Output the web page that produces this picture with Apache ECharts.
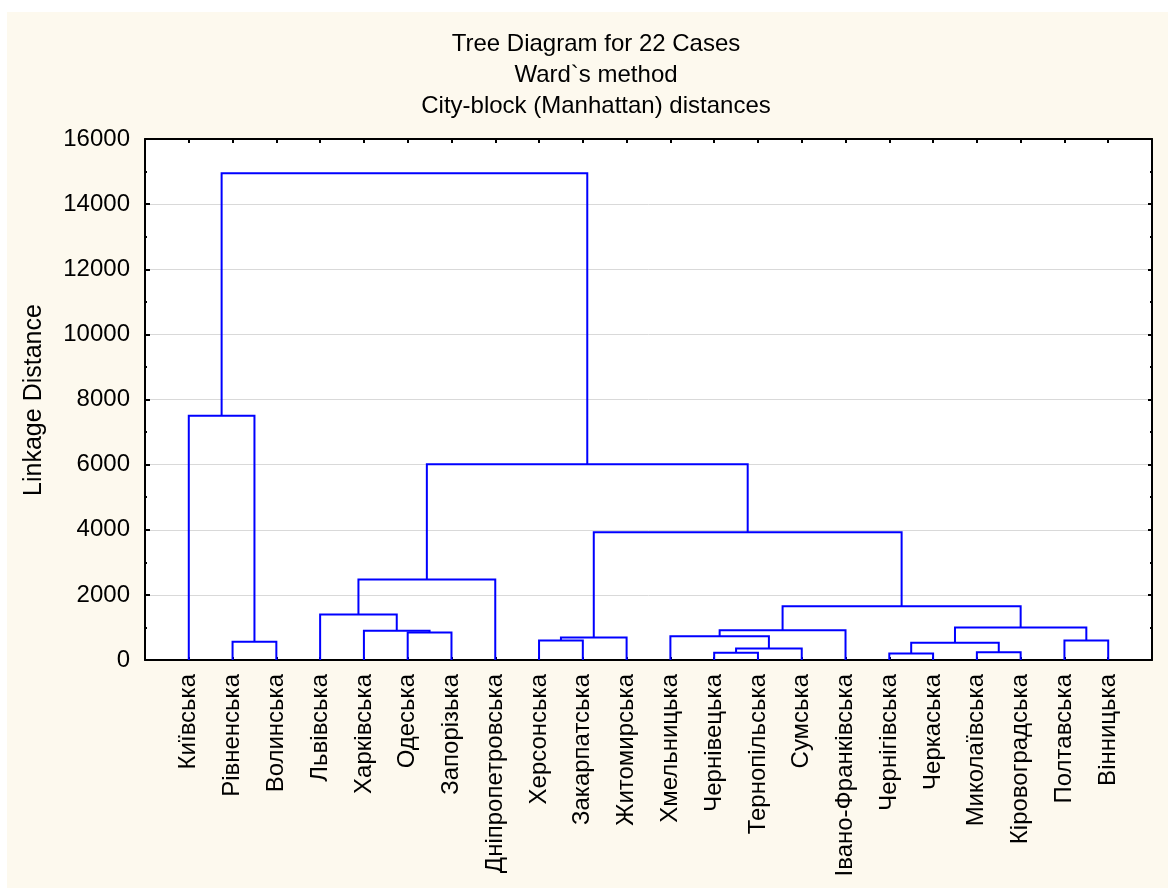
<!DOCTYPE html>
<html>
<head>
<meta charset="utf-8">
<script src="https://cdn.jsdelivr.net/npm/echarts@6/dist/echarts.min.js"></script>
<style>
  html, body { margin: 0; padding: 0; background: #ffffff; }
  #chart { position: absolute; left: 7px; top: 12px; width: 1161px; height: 876px; }
</style>
</head>
<body>
<div id="chart"></div>
<script>
// ---- Data ----
const leafNames = [
  'Київська', 'Рівненська', 'Волинська', 'Львівська', 'Харківська', 'Одеська',
  'Запорізька', 'Дніпропетровська', 'Херсонська', 'Закарпатська', 'Житомирська',
  'Хмельницька', 'Чернівецька', 'Тернопільська', 'Сумська', 'Івано-Франківська',
  'Чернігівська', 'Черкаська', 'Миколаївська', 'Кіровоградська', 'Полтавська', 'Вінницька'
];
// merges: node ids 0..21 are leaves, merge k creates node 22+k
const mergeLeft   = [16, 12, 18, 23, 22, 1, 8, 20, 28, 11, 5, 4, 31, 26, 3, 34, 36, 30, 38, 0, 41];
const mergeRight  = [17, 13, 19, 14, 24, 2, 9, 21, 10, 25, 6, 32, 15, 29, 33, 35, 7, 37, 39, 27, 40];
const mergeHeight = [200, 220, 240, 350, 530, 560, 600, 600, 690, 730, 845, 895, 915, 1000, 1400, 1650, 2470, 3920, 6010, 7500, 14950];
const yTicks = [0, 2000, 4000, 6000, 8000, 10000, 12000, 14000, 16000];
const titleLines = ['Tree Diagram for 22 Cases', 'Ward`s method', 'City-block (Manhattan) distances'];
const yName = 'Linkage Distance';

// ---- Build link segments (positions derived from leaf order) ----
const nLeaf = leafNames.length;
const nodePos = [], nodeH = [];
for (let i = 0; i < nLeaf; i++) { nodePos.push(i + 1); nodeH.push(0); }
const links = [];
for (let k = 0; k < mergeHeight.length; k++) {
  const a = mergeLeft[k], b = mergeRight[k], h = mergeHeight[k];
  links.push([nodePos[a], nodeH[a], nodePos[b], nodeH[b], h]);
  nodePos.push((nodePos[a] + nodePos[b]) / 2);
  nodeH.push(h);
}

const FONT = '"Liberation Sans", Arial, sans-serif';
const chart = echarts.init(document.getElementById('chart'), null, { renderer: 'canvas' });

const graphics = titleLines.map((t, i) => ({
  type: 'text', x: 589, y: 32 + i * 31,
  style: { text: t, fill: '#000', font: '24px ' + FONT, textAlign: 'center', textVerticalAlign: 'middle' }
}));
graphics.push({
  type: 'text', x: 27, y: 388, rotation: Math.PI / 2,
  style: { text: yName, fill: '#000', font: '25px ' + FONT, textAlign: 'center', textVerticalAlign: 'middle' }
});

const axisLineStyle = { color: '#000', width: 2 };

chart.setOption({
  backgroundColor: '#fdf9ee',
  animation: false,
  grid: { left: 138, top: 127, right: 16, bottom: 228, show: true, backgroundColor: '#ffffff', borderWidth: 0 },
  graphic: graphics,
  xAxis: [
    {
      type: 'value', min: 0, max: nLeaf + 1, interval: 1, position: 'bottom',
      axisLine: { show: true, onZero: false, lineStyle: axisLineStyle },
      axisTick: { show: true, inside: true, length: 3, lineStyle: { color: '#000', width: 2 } },
      splitLine: { show: false },
      axisLabel: {
        rotate: 90, margin: 14, color: '#000', fontSize: 24, fontFamily: FONT,
        showMinLabel: false, showMaxLabel: false,
        formatter: v => (v >= 1 && v <= nLeaf) ? leafNames[v - 1] : ''
      }
    },
    {
      type: 'value', min: 0, max: nLeaf + 1, interval: 1, position: 'top',
      axisLine: { show: true, onZero: false, lineStyle: axisLineStyle },
      axisTick: { show: true, inside: true, length: 4, lineStyle: { color: '#000', width: 2 } },
      splitLine: { show: false }, axisLabel: { show: false }
    }
  ],
  yAxis: [
    {
      type: 'value', min: yTicks[0], max: yTicks[yTicks.length - 1], interval: yTicks[1] - yTicks[0], position: 'left',
      axisLine: { show: true, onZero: false, lineStyle: axisLineStyle },
      axisTick: { show: true, inside: true, length: 5, lineStyle: { color: '#000', width: 2 } },
      minorTick: { show: true, splitNumber: 2, length: 2, lineStyle: { color: '#000', width: 2 } },
      splitLine: { show: true, lineStyle: { color: '#d9d9d9', width: 1 } },
      axisLabel: { margin: 15, color: '#000', fontSize: 24, fontFamily: FONT, formatter: v => String(v) }
    },
    {
      type: 'value', min: yTicks[0], max: yTicks[yTicks.length - 1], interval: yTicks[1] - yTicks[0], position: 'right',
      axisLine: { show: true, onZero: false, lineStyle: axisLineStyle },
      axisTick: { show: true, inside: true, length: 4, lineStyle: { color: '#000', width: 2 } },
      minorTick: { show: true, splitNumber: 2, length: 2, lineStyle: { color: '#000', width: 2 } },
      splitLine: { show: false }, axisLabel: { show: false }
    }
  ],
  series: [{
    type: 'custom',
    xAxisIndex: 0, yAxisIndex: 0,
    data: links,
    encode: { x: [0, 2], y: [1, 3, 4] },
    renderItem: function (params, api) {
      const p1 = api.coord([api.value(0), api.value(1)]);
      const p2 = api.coord([api.value(0), api.value(4)]);
      const p3 = api.coord([api.value(2), api.value(4)]);
      const p4 = api.coord([api.value(2), api.value(3)]);
      return {
        type: 'polyline',
        shape: { points: [p1, p2, p3, p4] },
        style: { stroke: '#0000ff', lineWidth: 2, fill: null }
      };
    },
    z: 5
  }]
});
</script>
</body>
</html>
